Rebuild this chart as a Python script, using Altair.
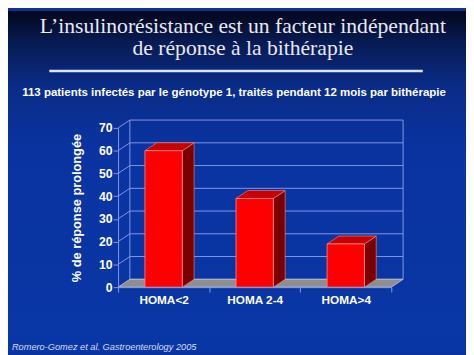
import altair as alt
import pandas as pd

# ---- data ----
categories = ["HOMA<2", "HOMA 2-4", "HOMA>4"]
values = [60, 39, 19]
y_ticks = [0, 10, 20, 30, 40, 50, 60, 70]

title_lines = ["L\u2019insulinorésistance est un facteur indépendant",
               "de réponse à la bithérapie"]
subtitle = "113 patients infectés par le génotype 1, traités pendant 12 mois par bithérapie"
y_title = "% de réponse prolongée"
citation = "Romero-Gomez et al. Gastroenterology 2005"

# ---- layout constants ----
W, H = 278, 162
PAD = {"left": 112, "top": 119, "right": 76, "bottom": 66}
YMAX = 70
px_y = H / YMAX            # px per y unit
px_x = W / 3               # px per category unit
DX = 12 / px_x             # depth offset (x units)
DY = 8 / px_y              # depth offset (y units)
HW = 19 / px_x             # half bar width (x units)

GRID = "#8498e4"
TXT = "white"

n = len(categories)
idx = list(range(n))

bars = pd.DataFrame({"cat": categories, "i": idx, "v": values})
bars["x1"] = bars.i - HW
bars["x2"] = bars.i + HW

side_rows, top_rows = [], []
for c, i, v in zip(categories, idx, values):
    side_rows += [{"cat": c, "x": i + HW, "y": v, "y2": 0},
                  {"cat": c, "x": i + HW + DX, "y": v + DY, "y2": DY}]
    top_rows += [{"cat": c, "y": v, "x": i - HW, "x2": i + HW},
                 {"cat": c, "y": v + DY, "x": i - HW + DX, "x2": i + HW + DX}]
side = pd.DataFrame(side_rows)
top = pd.DataFrame(top_rows)

floor = pd.DataFrame({"y": [0, DY], "x": [-0.5, -0.5 + DX], "x2": [n - 0.5, n - 0.5 + DX]})
back_grid = pd.DataFrame({"y": [t + DY for t in y_ticks]})
diag = pd.DataFrame({"y": [t for t in y_ticks if t > 0]})
diag["y2"] = diag.y + DY
walls = pd.DataFrame({"x": [-0.5 + DX, n - 0.5 + DX]})

xs = alt.Scale(domain=[-0.5, n - 0.5], nice=False, zero=False)
ys = alt.Scale(domain=[0, YMAX], nice=False)

label_expr = ("datum.value < 0 ? '%s' : datum.value < 1 ? '%s' : datum.value < 2 ? '%s' : ''"
              % tuple(categories))
XA = alt.Axis(
    values=[-0.5, 0.5, 1.5, 2.5], labelExpr=label_expr, labelOffset=px_x / 2,
    labelFlush=False, labelOverlap=False, labelAlign="center",
    title=None, grid=False, domainColor=GRID, tickColor=GRID, tickSize=5,
    labelColor=TXT, labelFont="Liberation Sans", labelFontWeight="bold",
    labelFontSize=12, labelPadding=3, zindex=1)
YA = alt.Axis(
    values=y_ticks, title=y_title, grid=False, domainColor=GRID, tickColor=GRID,
    tickSize=5, labelColor=TXT, labelFont="Liberation Sans",
    labelFontWeight="bold", labelFontSize=12.5, labelPadding=1,
    labelOverlap=False, labelFlush=False,
    titleColor=TXT, titleFont="Liberation Sans", titleFontWeight="bold",
    titleFontSize=13, titlePadding=15, zindex=1)
YN = dict(scale=ys, axis=YA)
XN = dict(scale=xs, axis=XA)

bg = alt.Chart(alt.Data(values=[{}])).mark_rect(
    color=alt.LinearGradient(
        gradient="linear", x1=0, x2=0, y1=0, y2=1,
        stops=[alt.GradientStop(offset=0, color="#03071a"),
               alt.GradientStop(offset=0.09, color="#071a52"),
               alt.GradientStop(offset=0.22, color="#0a2c88"),
               alt.GradientStop(offset=0.4, color="#0a33a0"),
               alt.GradientStop(offset=1, color="#0837a5")])
).encode(x=alt.value(-PAD["left"]), x2=alt.value(W + PAD["right"]),
         y=alt.value(-PAD["top"]), y2=alt.value(H + PAD["bottom"]))

header_rule = alt.Chart(alt.Data(values=[{}])).mark_rule(
    color="#dfe3f6", strokeWidth=2.5
).encode(x=alt.value(-70), x2=alt.value(310), y=alt.value(-58))

title1 = alt.Chart(alt.Data(values=[{"t": title_lines[0]}])).mark_text(
    font="Liberation Serif", fontSize=22, color="#e9e9f2", align="center",
    baseline="alphabetic").encode(text="t:N", x=alt.value(127), y=alt.value(-97))
title2 = alt.Chart(alt.Data(values=[{"t": title_lines[1]}])).mark_text(
    font="Liberation Serif", fontSize=22, color="#e9e9f2", align="center",
    baseline="alphabetic").encode(text="t:N", x=alt.value(127), y=alt.value(-74))
sub_m = alt.Chart(alt.Data(values=[{"t": subtitle}])).mark_text(
    font="Liberation Sans", fontSize=11.7, fontWeight="bold", color=TXT,
    align="center", baseline="alphabetic").encode(text="t:N", x=alt.value(118), y=alt.value(-32.5))

grid_l = alt.Chart(back_grid).mark_rule(color=GRID, strokeWidth=1).encode(
    x=alt.datum(-0.5 + DX, **XN), x2=alt.datum(n - 0.5 + DX),
    y=alt.Y("y:Q", **YN))
diag_l = alt.Chart(diag).mark_rule(color=GRID, strokeWidth=1).encode(
    x=alt.datum(-0.5, **XN), x2=alt.datum(-0.5 + DX),
    y=alt.Y("y:Q", **YN), y2="y2:Q")
wall_l = alt.Chart(walls).mark_rule(color=GRID, strokeWidth=1).encode(
    x=alt.X("x:Q", **XN), y=alt.datum(DY, **YN), y2=alt.datum(YMAX + DY))

floor_m = alt.Chart(floor).mark_area(
    orient="horizontal", color="#8e8e8e", stroke="#c8c8d8", strokeWidth=0.8
).encode(y=alt.Y("y:Q", **YN), x=alt.X("x:Q", **XN), x2="x2:Q")

side_m = alt.Chart(side).mark_area(
    orient="vertical", color="#7a0000", stroke="#ff8a8a", strokeWidth=0.6
).encode(x=alt.X("x:Q", **XN), y=alt.Y("y:Q", **YN), y2="y2:Q", detail="cat:N")

top_m = alt.Chart(top).mark_area(
    orient="horizontal", color="#c40000", stroke="#ff8a8a", strokeWidth=0.6
).encode(y=alt.Y("y:Q", **YN), x=alt.X("x:Q", **XN), x2="x2:Q", detail="cat:N")

front = alt.Chart(bars).mark_rect(
    color="#ff0000", stroke="#ff8a8a", strokeWidth=0.8
).encode(
    x=alt.X("x1:Q", **XN), x2="x2:Q",
    y=alt.Y("v:Q", **YN), y2=alt.datum(0),
)

cite = alt.Chart(alt.Data(values=[{"t": citation}])).mark_text(
    font="Liberation Sans", fontStyle="italic", fontSize=9.4, color="#d6dcf2",
    align="left", baseline="alphabetic"
).encode(text="t:N", x=alt.value(-108), y=alt.value(225.5))

chart = alt.layer(bg, header_rule, title1, title2, sub_m, grid_l, diag_l, wall_l, floor_m,
                  side_m, top_m, front, cite).properties(
    width=W, height=H,
    autosize=alt.AutoSizeParams(type="none"),
    padding=PAD,
    background="#0a33a0",
).configure_view(stroke=None)

chart.save("out.html", embed_options={"renderer": "svg", "actions": False})
